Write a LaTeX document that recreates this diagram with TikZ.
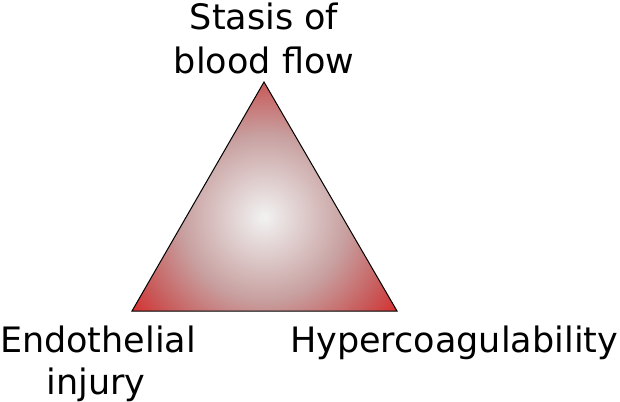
\documentclass[tikz,border=0pt]{standalone}
\usepackage{fontspec}
\setmainfont{DejaVu Sans}
\definecolor{cA}{RGB}{242,242,242}
\definecolor{cB}{RGB}{200,160,160}
\definecolor{cC}{RGB}{200,92,92}
\definecolor{cD}{RGB}{215,45,45}
\pgfdeclareradialshading{tri}{\pgfpoint{0bp}{0bp}}{color(0bp)=(cA); color(12.5bp)=(cB); color(20bp)=(cC); color(25bp)=(cD); color(50bp)=(cD)}
\tikzset{lbl/.style={font=\fontsize{35}{42}\selectfont, align=center, inner sep=0pt, anchor=base}}
\begin{document}
\begin{tikzpicture}[x=1pt,y=-1pt]
\useasboundingbox (0,0) rectangle (620,401);
\coordinate (T) at (264,82);
\coordinate (L) at (132,311);
\coordinate (R) at (397,311);
\begin{scope}
\clip (T) -- (L) -- (R) -- cycle;
\shade[shading=tri] (264,217) circle (165);
\end{scope}
\draw[line width=1pt, line join=miter] (T) -- (L) -- (R) -- cycle;
\node[lbl] (stasis) at (264,30) {Stasis of};
\node[lbl] (blood) at (264,74) {blood flow};
\node[lbl] (endo) at (98,352) {Endothelial};
\node[lbl] (inj) at (96,394) {injury};
\node[lbl, anchor=base west] (hyper) at (290,352) {Hypercoagulability};
\end{tikzpicture}
\end{document}
